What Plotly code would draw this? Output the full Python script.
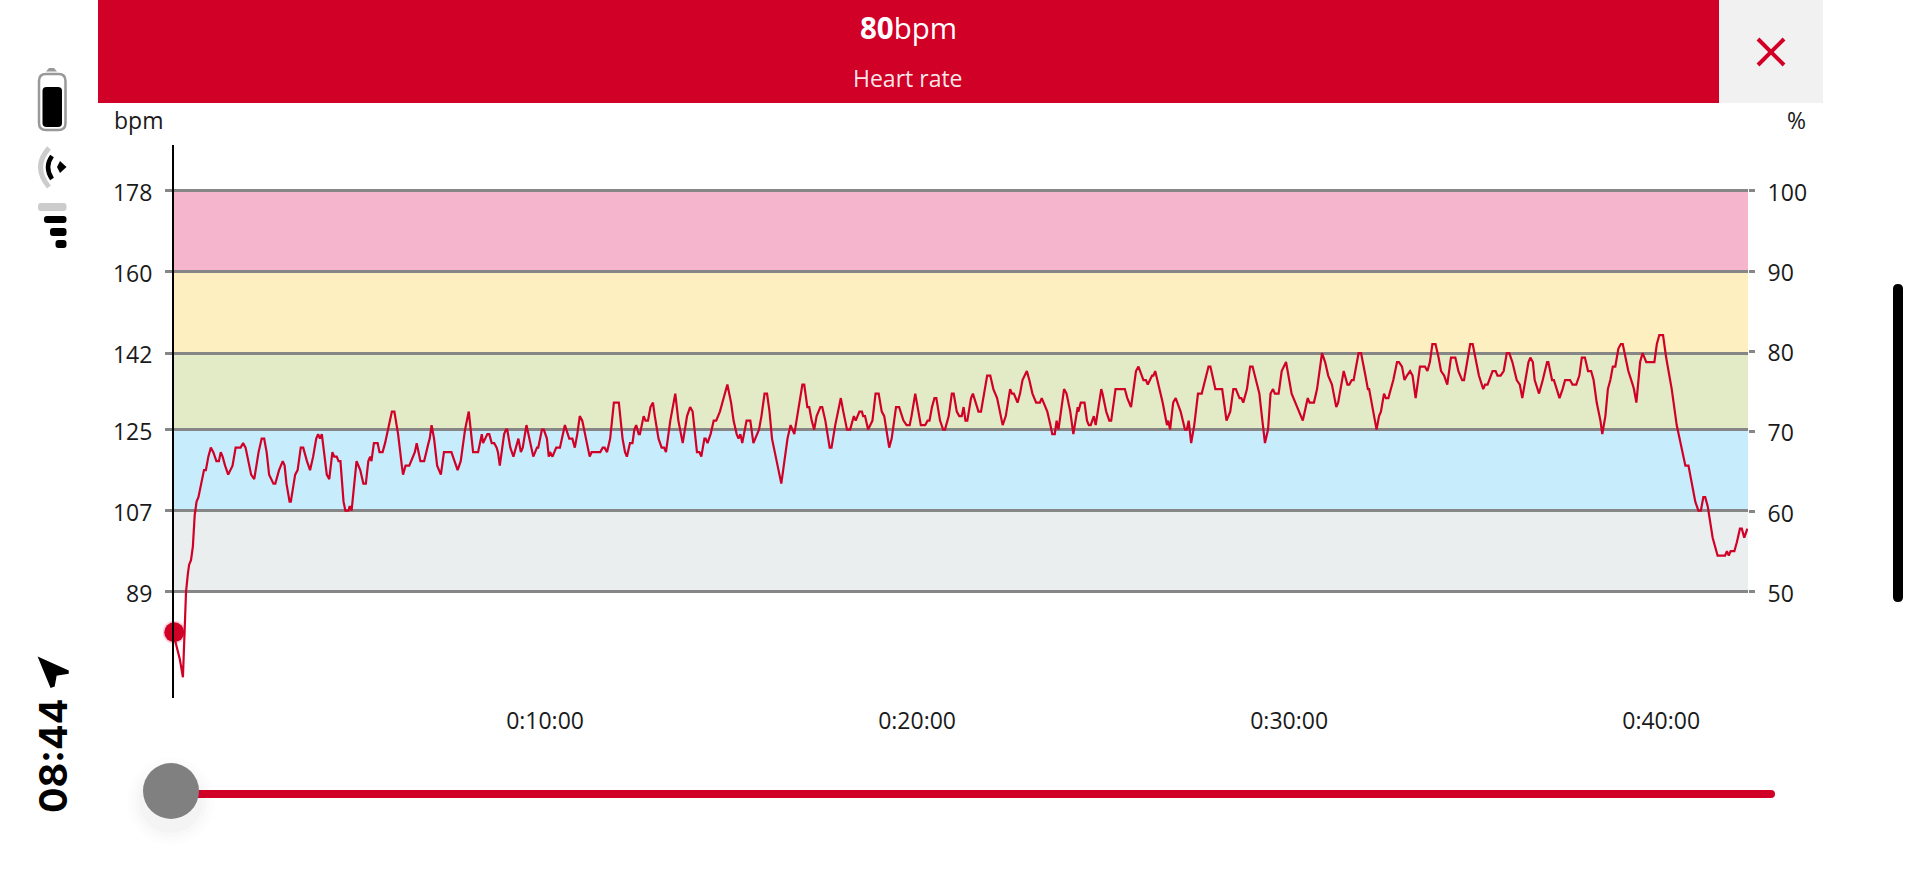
import plotly.graph_objects as go

time_s = [
    0,9,11,16,21,24,26,29,32,35,38,41,
    45,50,53,57,61,65,70,74,77,80,84,89,
    96,101,109,113,117,121,126,131,138,143,147,151,
    155,162,165,171,177,180,183,188,190,197,201,206,
    210,216,221,226,231,234,237,240,244,248,252,257,
    260,264,267,270,275,278,283,285,288,292,296,302,
    307,311,315,318,320,324,327,330,333,338,342,348,
    353,357,363,369,371,375,381,390,393,399,405,412,
    414,417,421,426,432,437,449,454,459,464,471,477,
    484,492,498,500,507,510,514,518,522,524,527,534,
    537,539,544,549,557,561,564,570,576,581,587,589,
    595,598,603,606,608,612,618,624,
    632,639,644,648,652,656,660,672,675,689,693,696,
    700,705,711,716,719,725,729,732,737,741,744,747,
    751,753,759,762,766,770,774,777,783,788,792,795,
    802,810,815,822,829,834,838,845,849,852,857,859,
    862,867,872,876,882,888,894,900,904,909,912,915,
    918,925,931,936,945,949,954,958,962,966,974,981,
    985,991,996,1002,1015,1018,1023,1026,1030,1034,1038,1044,
    1047,1052,1059,1062,1068,1077,1081,1087,1092,1098,1101,1107,
    1111,1113,1116,1121,1128,1133,1138,1143,1147,1155,1159,1166,
    1171,1178,1183,1188,1191,1197,1206,1213,1217,1220,1224,1228,
    1231,1237,1242,1245,1251,1256,1259,1264,1268,1272,1275,1278,
    1281,1287,
    1290,1295,1299,1303,1307,1313,1318,1323,1329,1338,1343,1350,
    1353,1356,1362,1366,1370,1377,1381,1386,1392,1398,1401,1410,
    1415,1418,1422,1425,1428,1437,1441,1447,1452,1459,1460,1464,
    1470,1474,1477,1480,1485,1488,1497,1499,1505,1510,1513,1520,
    1535,1539,1545,1553,1557,1565,1569,1572,1579,1581,1584,1589,
    1596,1603,1605,1608,1613,1617,1625,1632,1635,1638,1642,1647,
    1653,1659,1663,1670,1673,1681,1692,1699,1705,1710,1714,1720,
    1723,1726,1732,1737,1741,1748,1752,1756,1759,1761,1766,1770,
    1774,1777,1783,1788,1795,1800,1804,1822,1830,1833,1840,1845,
    1853,1858,1863,1869,1876,1879,1888,1894,1897,1901,1904,1912,
    1916,1923,1927,1929,1936,1941,1945,1948,1953,1956,1960,
    1968,1974,1977,1982,1986,1990,1995,1999,2004,2011,2014,2019,
    2023,2027,2031,2036,2041,2045,2050,2055,2061,2068,2073,2079,
    2082,2088,2092,2096,2100,2106,2113,2116,2120,2128,2133,2136,
    2141,2146,2151,2155,2160,2167,2172,2176,2181,2186,2189,2193,
    2196,2203,2209,2216,2218,2224,2227,2232,2236,2241,2245,2253,
    2257,2263,2268,2272,2277,2282,2287,2291,2296,2302,2305,2310,
    2314,2318,2322,2326,2331,2335,2338,2344,2347,2354,2356,2360,
    2366,2370,2376,2389,2393,2397,2403,2408,2417,2425,2439,2444,
    2449,2455,2460,2464,2468,2471,2475,2483,2491,2503,2506,2509,
    2512,2518,2522,2527,2530,2534,2539,
]
heart_rate = [
    80,75,74,70,89,93,95,96,99,106,109,110,
    113,116,116,119,121,120,118,118,120,119,117,115,
    117,121,121,122,121,118,115,114,120,123,123,120,
    115,113,113,116,118,117,113,109,109,115,116,121,
    121,118,116,119,123,124,123,124,120,115,114,120,
    119,119,118,118,109,107,107,108,107,113,118,116,
    113,113,118,119,118,122,122,122,120,120,122,126,
    129,129,124,117,115,117,117,120,122,118,118,122,
    123,126,123,117,115,120,120,118,116,118,125,129,
    120,120,124,122,124,124,122,122,121,120,117,124,
    125,125,121,119,123,120,121,126,122,119,121,121,
    125,125,123,119,120,119,121,121,
    126,123,123,121,124,128,127,119,120,120,121,121,
    120,123,131,131,131,123,120,119,122,122,125,126,
    124,124,128,127,127,130,131,128,123,121,121,120,
    127,133,127,122,128,130,129,120,120,119,123,123,
    122,124,127,127,129,132,135,131,127,124,123,124,
    122,127,127,122,125,128,133,133,129,123,118,113,
    117,123,126,124,135,135,130,130,127,125,128,130,
    130,127,121,121,126,132,129,125,125,128,127,129,
    129,128,128,125,127,133,133,129,128,121,123,130,
    130,127,126,126,128,133,126,126,127,127,130,132,
    132,127,125,125,128,133,133,129,128,128,130,127,
    127,132,
    133,131,129,129,132,137,137,134,132,126,128,134,
    133,133,131,133,136,138,136,133,131,131,132,129,
    126,124,124,127,125,134,133,129,124,130,129,131,
    131,127,126,126,128,126,134,133,129,127,127,134,
    134,132,130,138,139,136,136,135,137,137,138,135,
    131,126,127,125,131,132,129,125,125,127,122,126,
    133,133,135,139,139,134,134,127,129,134,134,132,
    132,131,134,139,139,135,133,128,124,122,125,133,
    134,133,133,138,140,136,133,127,132,131,131,134,
    142,140,137,135,130,131,138,135,135,136,136,142,
    142,137,134,134,129,125,128,129,133,132,132,
    136,140,140,139,136,137,138,137,132,139,139,139,
    138,140,144,144,141,138,137,135,141,141,138,136,
    136,141,144,144,141,137,134,135,135,138,138,137,
    137,138,142,142,140,136,135,132,136,140,141,140,
    136,133,136,140,140,136,136,134,132,134,136,136,
    135,135,137,141,141,138,138,136,131,127,124,128,
    134,136,139,139,143,144,144,140,138,135,134,131,
    140,142,140,140,144,146,146,141,134,126,117,117,
    113,109,107,107,110,110,108,101,97,97,98,97,
    98,98,100,103,103,101,103,
]
bpm_ticks = [89, 107, 125, 142, 160, 178]
pct_ticks = [50, 60, 70, 80, 90, 100]
time_ticks = [600, 1200, 1800, 2400]
time_labels = ["0:10:00", "0:20:00", "0:30:00", "0:40:00"]
zone_edges = [89, 107, 125, 142, 160, 178]
zone_colors = ["#EAEEEF", "#C7ECFC", "#E2EAC6", "#FEEFC0", "#F5B5CD"]
current_bpm = 80
current_s = 2

W, H = 1920, 887
RED = "#D10027"
FONT = "Open Sans"
L, R, T, B = 174, 1748, 145, 698


def fx(p):
    return (p - L) / (R - L)


def fy(p):
    return (B - p) / (B - T)


def rrect(x0, y0, x1, y1, r):
    a, b, c, d = fx(x0), fy(y0), fx(x1), fy(y1)
    rx, ry = r / (R - L), r / (B - T)
    return (f"M{a+rx},{b} L{c-rx},{b} Q{c},{b} {c},{b-ry} L{c},{d+ry} Q{c},{d} {c-rx},{d} "
            f"L{a+rx},{d} Q{a},{d} {a},{d+ry} L{a},{b-ry} Q{a},{b} {a+rx},{b} Z")


def poly(points, close=True):
    s = "M" + " L".join(f"{fx(x)},{fy(y)}" for x, y in points)
    return s + (" Z" if close else "")


def arc(p0, c, p1):
    return f"M{fx(p0[0])},{fy(p0[1])} Q{fx(c[0])},{fy(c[1])} {fx(p1[0])},{fy(p1[1])}"


def rect_shape(x0, y0, x1, y1, color):
    return dict(type="rect", xref="paper", yref="paper", x0=fx(x0), x1=fx(x1), y0=fy(y1), y1=fy(y0),
                fillcolor=color, line_width=0, layer="above")


def path_shape(path, fill=None, line=None, width=0):
    d = dict(type="path", xref="paper", yref="paper", path=path, layer="above")
    d["fillcolor"] = fill if fill else "rgba(0,0,0,0)"
    d["line"] = dict(color=line if line else "rgba(0,0,0,0)", width=width)
    return d


def circle(cx, cy, r, color, line=None, width=0):
    return dict(type="circle", xref="paper", yref="paper", x0=fx(cx - r), x1=fx(cx + r),
                y0=fy(cy + r), y1=fy(cy - r), fillcolor=color,
                line=dict(color=line if line else "rgba(0,0,0,0)", width=width), layer="above")


def label(x, y, text, font, angle=0):
    return dict(xref="paper", yref="paper", x=fx(x), y=fy(y), text=text, showarrow=False, font=font,
                textangle=angle, xanchor="center", yanchor="middle")


shapes = []
for lo, hi, col in zip(zone_edges[:-1], zone_edges[1:], zone_colors):
    shapes.append(dict(type="rect", xref="x", yref="y", x0=0, x1=2540, y0=lo, y1=hi,
                       fillcolor=col, line_width=0, layer="below"))

# header
shapes += [rect_shape(98, 0, 1719, 103, RED), rect_shape(1719, 0, 1823, 103, "#F1F1F1")]
shapes.append(path_shape(poly([(1758, 39), (1784, 65)], False), line=RED, width=4))
shapes.append(path_shape(poly([(1784, 39), (1758, 65)], False), line=RED, width=4))

# status icons
shapes.append(path_shape(rrect(39, 74, 65.5, 130, 7), fill="#FFFFFF", line="#999999", width=2.5))
shapes.append(path_shape(rrect(42.5, 87, 62, 127, 4), fill="#000000"))
shapes.append(path_shape(poly([(46, 71.5), (49, 68), (54, 68), (57, 71.5)]), fill="#999999"))
shapes.append(path_shape(arc((49, 148), (32, 167), (49, 187)), line="#CCCCCC", width=5))
shapes.append(path_shape(arc((52, 156), (44, 167), (52, 179)), line="#000000", width=4.5))
shapes.append(path_shape(poly([(60, 161), (66.5, 167), (60, 173), (57, 167)]), fill="#000000"))
shapes.append(path_shape(rrect(38, 203, 66.5, 211, 3), fill="#CCCCCC"))
shapes.append(path_shape(rrect(44, 216, 66.5, 223, 3), fill="#000000"))
shapes.append(path_shape(rrect(50, 228, 66.5, 236, 3), fill="#000000"))
shapes.append(path_shape(rrect(55.5, 240, 66.5, 248, 3), fill="#000000"))
shapes.append(path_shape(poly([(39, 658), (68, 671), (68, 673), (56, 675), (54, 686), (51, 687)]),
                         fill="#000000", line="#000000", width=1.5))

# slider
for r, op in [(44, .008), (40, .008), (36, .01), (32, .015)]:
    shapes.append(circle(171, 801, r, f"rgba(0,0,0,{op})"))
shapes.append(path_shape(rrect(171, 790, 1775, 798, 4), fill=RED))
shapes.append(circle(171, 791, 28, "#808080"))

# scrollbar
shapes.append(path_shape(rrect(1893, 284, 1903, 602, 5), fill="#000000"))

fig = go.Figure()
fig.add_trace(go.Scatter(x=time_s, y=heart_rate, mode="lines", line=dict(color=RED, width=2.2),
                         showlegend=False, hoverinfo="skip"))
fig.add_trace(go.Scatter(x=[current_s], y=[current_bpm], mode="markers", cliponaxis=False,
                         marker=dict(color=RED, size=20, line=dict(color="rgba(209,0,39,0.18)", width=3)),
                         showlegend=False, hoverinfo="skip"))
fig.add_trace(go.Scatter(x=[], y=[], yaxis="y2", showlegend=False))

tick_font = dict(family=FONT, size=23, color="#1A1A1A")
GRID = "#868686"
fig.update_layout(
    width=W, height=H, autosize=False,
    margin=dict(l=L, r=W - R, t=T, b=H - B),
    paper_bgcolor="white", plot_bgcolor="white",
    showlegend=False,
    shapes=shapes,
    xaxis=dict(range=[1.6, 2540], tickvals=time_ticks, ticktext=time_labels, showgrid=False, zeroline=False,
               showline=False, ticks="", tickfont=tick_font, ticklabelstandoff=7),
    yaxis=dict(range=[65.4, 188.2], tickvals=bpm_ticks, showgrid=True, gridcolor=GRID, gridwidth=2.5,
               zeroline=False, showline=True, linecolor="#000000", linewidth=2, ticks="outside", ticklen=7,
               tickwidth=2.5, tickcolor=GRID, tickfont=tick_font, ticklabelstandoff=8, ticklabelshift=2),
    yaxis2=dict(range=[36.74, 105.73], tickvals=pct_ticks, overlaying="y", side="right", showgrid=False,
                zeroline=False, showline=False, ticks="outside", ticklen=6, tickwidth=2.5, tickcolor=GRID,
                tickfont=tick_font, ticklabelstandoff=8, ticklabelshift=2),
    annotations=[
        label(908, 27, "<b>80</b>bpm", dict(family=FONT, size=29.5, color="white")),
        label(908, 78, "Heart rate", dict(family=FONT, size=23, color="rgba(255,255,255,0.92)")),
        label(138, 120, "bpm", tick_font),
        label(1796, 120, "%", tick_font),
        label(53, 756, "<b>08:44</b>", dict(family="Inter", size=38, color="#000000"), angle=-90),
    ],
)
fig.write_html("out.html", config={"displayModeBar": False},
               post_script="document.body.style.margin='0';document.body.style.overflow='hidden';")
